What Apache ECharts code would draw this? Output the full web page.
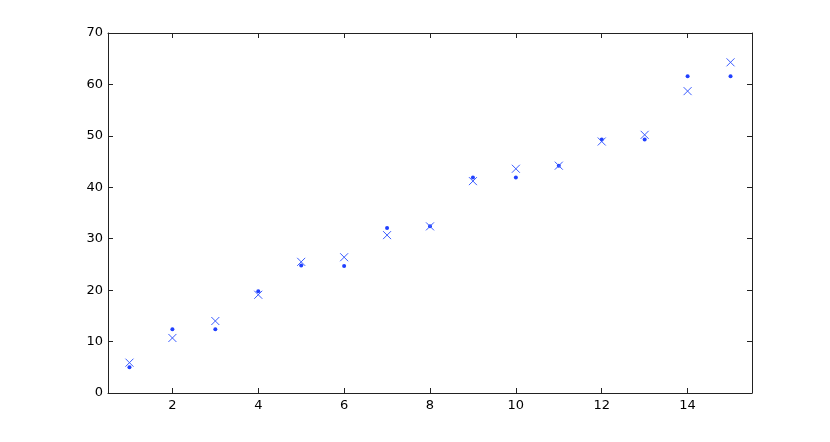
<!DOCTYPE html>
<html>
<head>
<meta charset="utf-8">
<script src="https://cdn.jsdelivr.net/npm/echarts@6/dist/echarts.min.js"></script>
<style>
  html, body { margin: 0; padding: 0; background: #fff; }
  #chart { width: 830px; height: 442px; }
</style>
</head>
<body>
<div id="chart"></div>
<script>
const xValues = [1, 2, 3, 4, 5, 6, 7, 8, 9, 10, 11, 12, 13, 14, 15]
const dotValues = [5.0, 12.4, 12.4, 19.8, 24.8, 24.7, 32.1, 32.4, 41.9, 41.9, 44.2, 49.3, 49.3, 61.6, 61.6]
const crossValues = [5.9, 10.7, 14.0, 19.1, 25.5, 26.4, 30.7, 32.4, 41.2, 43.6, 44.2, 48.9, 50.2, 58.7, 64.3]
const xTicks = [2, 4, 6, 8, 10, 12, 14]

const axisColor = '#222'
const labelFont = { color: '#000', fontSize: 13, fontFamily: 'DejaVu Sans, sans-serif' }

function xAxisCfg(pos, showLabel) {
  return {
    type: 'value',
    position: pos,
    min: 0.5,
    max: 15.5,
    axisLine: { show: true, onZero: false, lineStyle: { color: axisColor, width: 1 } },
    axisTick: { show: true, inside: true, length: 5, customValues: xTicks, lineStyle: { color: axisColor } },
    axisLabel: Object.assign({ show: showLabel, customValues: xTicks, margin: 6 }, labelFont),
    splitLine: { show: false }
  }
}

function yAxisCfg(pos, showLabel) {
  return {
    type: 'value',
    position: pos,
    min: 0,
    max: 70,
    interval: 10,
    axisLine: { show: true, onZero: false, lineStyle: { color: axisColor, width: 1 } },
    axisTick: { show: true, inside: true, length: 5, lineStyle: { color: axisColor } },
    axisLabel: Object.assign({ show: showLabel, margin: 5 }, labelFont),
    splitLine: { show: false }
  }
}

const chart = echarts.init(document.getElementById('chart'))
chart.setOption({
  animation: false,
  backgroundColor: '#fff',
  grid: { left: 108, right: 78, top: 33, bottom: 49 },
  xAxis: [xAxisCfg('bottom', true), xAxisCfg('top', false)],
  yAxis: [yAxisCfg('left', true), yAxisCfg('right', false)],
  series: [
    {
      name: 'dots',
      type: 'scatter',
      symbol: 'circle',
      symbolSize: 4,
      itemStyle: { color: '#2040ff', opacity: 1 },
      data: xValues.map((x, i) => [x, dotValues[i]])
    },
    {
      name: 'crosses',
      type: 'scatter',
      symbol: 'path://M0,0L10,10M10,0L0,10',
      symbolSize: 8,
      itemStyle: { color: 'none', borderColor: '#3a5cff', borderWidth: 1, opacity: 1 },
      data: xValues.map((x, i) => [x, crossValues[i]])
    }
  ]
})
</script>
</body>
</html>
